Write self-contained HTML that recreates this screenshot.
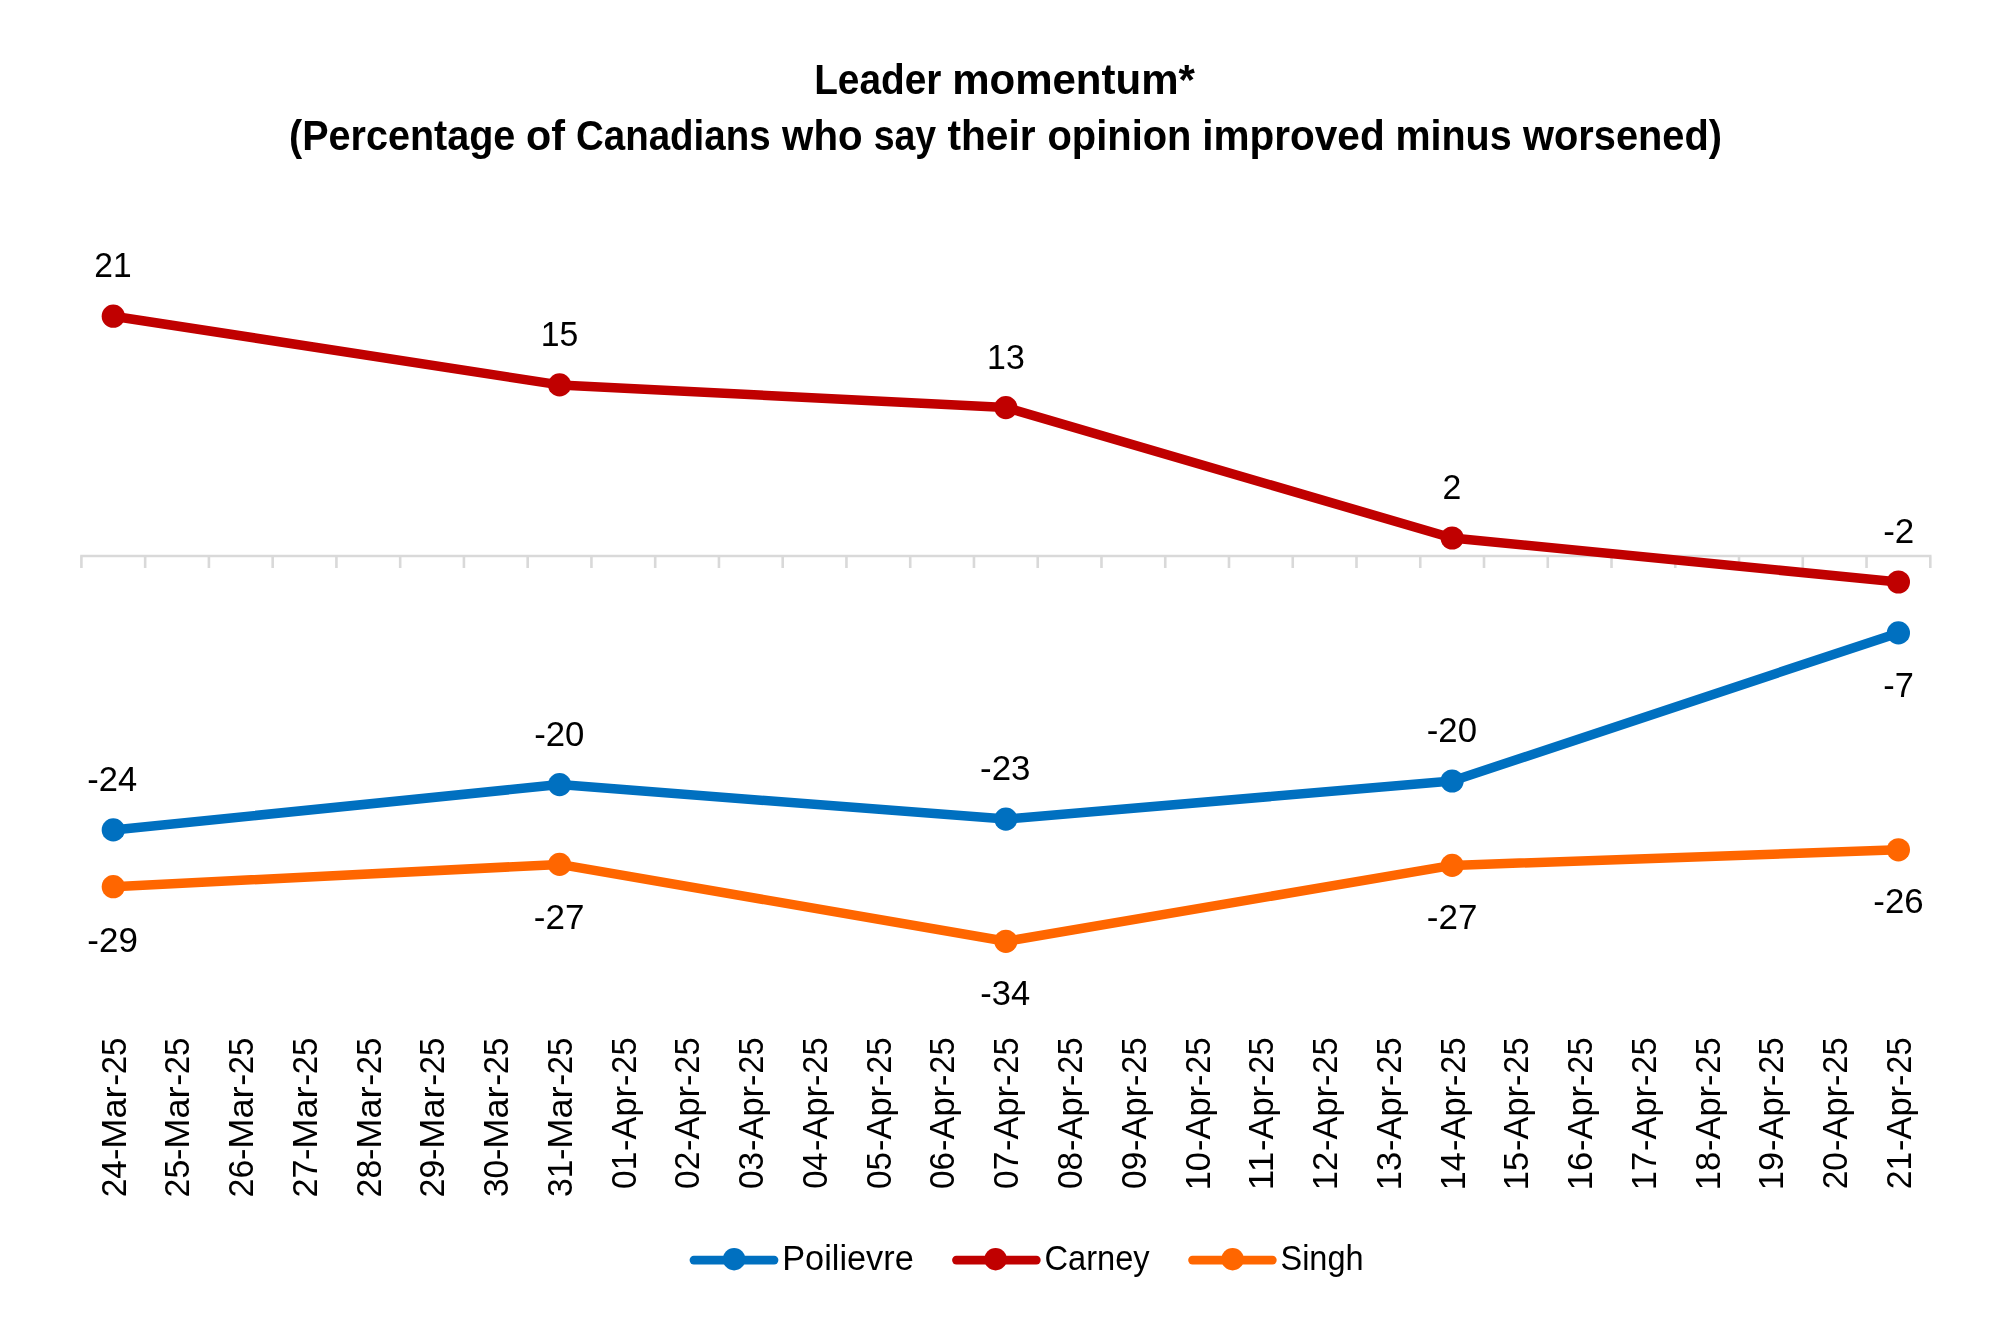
<!DOCTYPE html>
<html><head><meta charset="utf-8"><style>
html,body{margin:0;padding:0;background:#fff;}
svg{display:block;will-change:transform;}
text{font-family:"Liberation Sans",sans-serif;}
</style></head><body>
<svg width="2000" height="1328" viewBox="0 0 2000 1328">
<rect width="2000" height="1328" fill="#fff"/>
<text x="814.21" y="94.00" font-size="42.5" font-weight="bold" textLength="127.08" lengthAdjust="spacingAndGlyphs" fill="#000">Leader</text>
<text x="952.23" y="94.00" font-size="42.5" font-weight="bold" textLength="242.61" lengthAdjust="spacingAndGlyphs" fill="#000">momentum*</text>
<text x="289.03" y="150.00" font-size="42.5" font-weight="bold" textLength="226.32" lengthAdjust="spacingAndGlyphs" fill="#000">(Percentage</text>
<text x="525.99" y="150.00" font-size="42.5" font-weight="bold" textLength="38.93" lengthAdjust="spacingAndGlyphs" fill="#000">of</text>
<text x="576.02" y="150.00" font-size="42.5" font-weight="bold" textLength="194.56" lengthAdjust="spacingAndGlyphs" fill="#000">Canadians</text>
<text x="782.12" y="150.00" font-size="42.5" font-weight="bold" textLength="80.45" lengthAdjust="spacingAndGlyphs" fill="#000">who</text>
<text x="873.68" y="150.00" font-size="42.5" font-weight="bold" textLength="62.52" lengthAdjust="spacingAndGlyphs" fill="#000">say</text>
<text x="947.50" y="150.00" font-size="42.5" font-weight="bold" textLength="88.11" lengthAdjust="spacingAndGlyphs" fill="#000">their</text>
<text x="1047.44" y="150.00" font-size="42.5" font-weight="bold" textLength="144.03" lengthAdjust="spacingAndGlyphs" fill="#000">opinion</text>
<text x="1202.17" y="150.00" font-size="42.5" font-weight="bold" textLength="182.50" lengthAdjust="spacingAndGlyphs" fill="#000">improved</text>
<text x="1395.40" y="150.00" font-size="42.5" font-weight="bold" textLength="116.22" lengthAdjust="spacingAndGlyphs" fill="#000">minus</text>
<text x="1523.12" y="150.00" font-size="42.5" font-weight="bold" textLength="198.86" lengthAdjust="spacingAndGlyphs" fill="#000">worsened)</text>
<path d="M80.20 556.0H1931.50 M81.40 556.00V568 M145.16 556.00V568 M208.91 556.00V568 M272.67 556.00V568 M336.42 556.00V568 M400.18 556.00V568 M463.93 556.00V568 M527.69 556.00V568 M591.44 556.00V568 M655.20 556.00V568 M718.95 556.00V568 M782.71 556.00V568 M846.46 556.00V568 M910.22 556.00V568 M973.97 556.00V568 M1037.73 556.00V568 M1101.48 556.00V568 M1165.24 556.00V568 M1228.99 556.00V568 M1292.75 556.00V568 M1356.50 556.00V568 M1420.26 556.00V568 M1484.01 556.00V568 M1547.77 556.00V568 M1611.52 556.00V568 M1675.28 556.00V568 M1739.03 556.00V568 M1802.79 556.00V568 M1866.54 556.00V568 M1930.30 556.00V568 " stroke="#D9D9D9" stroke-width="2.6" fill="none"/>
<polyline points="113.28,829.90 559.56,784.60 1005.85,819.10 1452.14,781.00 1898.42,632.90" stroke="#0070C0" stroke-width="9.5" fill="none" stroke-linejoin="round" stroke-linecap="round"/>
<circle cx="113.28" cy="829.90" r="11.6" fill="#0070C0"/>
<circle cx="559.56" cy="784.60" r="11.6" fill="#0070C0"/>
<circle cx="1005.85" cy="819.10" r="11.6" fill="#0070C0"/>
<circle cx="1452.14" cy="781.00" r="11.6" fill="#0070C0"/>
<circle cx="1898.42" cy="632.90" r="11.6" fill="#0070C0"/>
<polyline points="113.28,316.20 559.56,384.90 1005.85,407.60 1452.14,538.00 1898.42,582.00" stroke="#C00000" stroke-width="9.5" fill="none" stroke-linejoin="round" stroke-linecap="round"/>
<circle cx="113.28" cy="316.20" r="11.6" fill="#C00000"/>
<circle cx="559.56" cy="384.90" r="11.6" fill="#C00000"/>
<circle cx="1005.85" cy="407.60" r="11.6" fill="#C00000"/>
<circle cx="1452.14" cy="538.00" r="11.6" fill="#C00000"/>
<circle cx="1898.42" cy="582.00" r="11.6" fill="#C00000"/>
<polyline points="113.28,886.70 559.56,864.40 1005.85,941.30 1452.14,865.40 1898.42,849.80" stroke="#FF6600" stroke-width="9.5" fill="none" stroke-linejoin="round" stroke-linecap="round"/>
<circle cx="113.28" cy="886.70" r="11.6" fill="#FF6600"/>
<circle cx="559.56" cy="864.40" r="11.6" fill="#FF6600"/>
<circle cx="1005.85" cy="941.30" r="11.6" fill="#FF6600"/>
<circle cx="1452.14" cy="865.40" r="11.6" fill="#FF6600"/>
<circle cx="1898.42" cy="849.80" r="11.6" fill="#FF6600"/>
<text x="94.31" y="276.60" font-size="34.5" font-weight="normal" textLength="37.33" lengthAdjust="spacingAndGlyphs" fill="#000">21</text>
<text x="540.73" y="345.70" font-size="34.5" font-weight="normal" textLength="37.59" lengthAdjust="spacingAndGlyphs" fill="#000">15</text>
<text x="987.12" y="368.80" font-size="34.5" font-weight="normal" textLength="37.67" lengthAdjust="spacingAndGlyphs" fill="#000">13</text>
<text x="1442.60" y="498.80" font-size="34.5" font-weight="normal" textLength="18.80" lengthAdjust="spacingAndGlyphs" fill="#000">2</text>
<text x="1883.15" y="542.50" font-size="34.5" font-weight="normal" textLength="31.11" lengthAdjust="spacingAndGlyphs" fill="#000">-2</text>
<text x="87.37" y="791.20" font-size="34.5" font-weight="normal" textLength="49.84" lengthAdjust="spacingAndGlyphs" fill="#000">-24</text>
<text x="87.35" y="951.60" font-size="34.5" font-weight="normal" textLength="50.51" lengthAdjust="spacingAndGlyphs" fill="#000">-29</text>
<text x="534.21" y="745.50" font-size="34.5" font-weight="normal" textLength="50.20" lengthAdjust="spacingAndGlyphs" fill="#000">-20</text>
<text x="533.79" y="928.70" font-size="34.5" font-weight="normal" textLength="50.62" lengthAdjust="spacingAndGlyphs" fill="#000">-27</text>
<text x="980.10" y="780.10" font-size="34.5" font-weight="normal" textLength="50.38" lengthAdjust="spacingAndGlyphs" fill="#000">-23</text>
<text x="980.32" y="1005.20" font-size="34.5" font-weight="normal" textLength="49.84" lengthAdjust="spacingAndGlyphs" fill="#000">-34</text>
<text x="1426.81" y="741.50" font-size="34.5" font-weight="normal" textLength="50.20" lengthAdjust="spacingAndGlyphs" fill="#000">-20</text>
<text x="1426.79" y="928.80" font-size="34.5" font-weight="normal" textLength="50.62" lengthAdjust="spacingAndGlyphs" fill="#000">-27</text>
<text x="1883.27" y="697.00" font-size="34.5" font-weight="normal" textLength="30.56" lengthAdjust="spacingAndGlyphs" fill="#000">-7</text>
<text x="1873.30" y="912.70" font-size="34.5" font-weight="normal" textLength="50.38" lengthAdjust="spacingAndGlyphs" fill="#000">-26</text>
<text transform="translate(125.68,1195.70) rotate(-90)" x="-1.68" y="0" font-size="34.5" textLength="37.16" lengthAdjust="spacingAndGlyphs">24</text>
<text transform="translate(125.68,1158.40) rotate(-90)" x="-1.53" y="0" font-size="34.5" textLength="11.46" lengthAdjust="spacingAndGlyphs">-</text>
<text transform="translate(125.68,1145.90) rotate(-90)" x="-2.98" y="0" font-size="34.5" textLength="62.58" lengthAdjust="spacingAndGlyphs">Mar</text>
<text transform="translate(125.68,1084.20) rotate(-90)" x="-1.60" y="0" font-size="34.5" textLength="12.00" lengthAdjust="spacingAndGlyphs">-</text>
<text transform="translate(125.68,1072.70) rotate(-90)" x="-1.66" y="0" font-size="34.5" textLength="36.64" lengthAdjust="spacingAndGlyphs">25</text>
<text transform="translate(189.43,1195.70) rotate(-90)" x="-1.70" y="0" font-size="34.5" textLength="37.62" lengthAdjust="spacingAndGlyphs">25</text>
<text transform="translate(189.43,1158.40) rotate(-90)" x="-1.53" y="0" font-size="34.5" textLength="11.46" lengthAdjust="spacingAndGlyphs">-</text>
<text transform="translate(189.43,1145.90) rotate(-90)" x="-2.98" y="0" font-size="34.5" textLength="62.58" lengthAdjust="spacingAndGlyphs">Mar</text>
<text transform="translate(189.43,1084.20) rotate(-90)" x="-1.60" y="0" font-size="34.5" textLength="12.00" lengthAdjust="spacingAndGlyphs">-</text>
<text transform="translate(189.43,1072.70) rotate(-90)" x="-1.66" y="0" font-size="34.5" textLength="36.64" lengthAdjust="spacingAndGlyphs">25</text>
<text transform="translate(253.19,1195.70) rotate(-90)" x="-1.70" y="0" font-size="34.5" textLength="37.69" lengthAdjust="spacingAndGlyphs">26</text>
<text transform="translate(253.19,1158.40) rotate(-90)" x="-1.53" y="0" font-size="34.5" textLength="11.46" lengthAdjust="spacingAndGlyphs">-</text>
<text transform="translate(253.19,1145.90) rotate(-90)" x="-2.98" y="0" font-size="34.5" textLength="62.58" lengthAdjust="spacingAndGlyphs">Mar</text>
<text transform="translate(253.19,1084.20) rotate(-90)" x="-1.60" y="0" font-size="34.5" textLength="12.00" lengthAdjust="spacingAndGlyphs">-</text>
<text transform="translate(253.19,1072.70) rotate(-90)" x="-1.66" y="0" font-size="34.5" textLength="36.64" lengthAdjust="spacingAndGlyphs">25</text>
<text transform="translate(316.94,1195.70) rotate(-90)" x="-1.72" y="0" font-size="34.5" textLength="37.93" lengthAdjust="spacingAndGlyphs">27</text>
<text transform="translate(316.94,1158.40) rotate(-90)" x="-1.53" y="0" font-size="34.5" textLength="11.46" lengthAdjust="spacingAndGlyphs">-</text>
<text transform="translate(316.94,1145.90) rotate(-90)" x="-2.98" y="0" font-size="34.5" textLength="62.58" lengthAdjust="spacingAndGlyphs">Mar</text>
<text transform="translate(316.94,1084.20) rotate(-90)" x="-1.60" y="0" font-size="34.5" textLength="12.00" lengthAdjust="spacingAndGlyphs">-</text>
<text transform="translate(316.94,1072.70) rotate(-90)" x="-1.66" y="0" font-size="34.5" textLength="36.64" lengthAdjust="spacingAndGlyphs">25</text>
<text transform="translate(380.70,1195.70) rotate(-90)" x="-1.70" y="0" font-size="34.5" textLength="37.68" lengthAdjust="spacingAndGlyphs">28</text>
<text transform="translate(380.70,1158.40) rotate(-90)" x="-1.53" y="0" font-size="34.5" textLength="11.46" lengthAdjust="spacingAndGlyphs">-</text>
<text transform="translate(380.70,1145.90) rotate(-90)" x="-2.98" y="0" font-size="34.5" textLength="62.58" lengthAdjust="spacingAndGlyphs">Mar</text>
<text transform="translate(380.70,1084.20) rotate(-90)" x="-1.60" y="0" font-size="34.5" textLength="12.00" lengthAdjust="spacingAndGlyphs">-</text>
<text transform="translate(380.70,1072.70) rotate(-90)" x="-1.66" y="0" font-size="34.5" textLength="36.64" lengthAdjust="spacingAndGlyphs">25</text>
<text transform="translate(444.45,1195.70) rotate(-90)" x="-1.71" y="0" font-size="34.5" textLength="37.82" lengthAdjust="spacingAndGlyphs">29</text>
<text transform="translate(444.45,1158.40) rotate(-90)" x="-1.53" y="0" font-size="34.5" textLength="11.46" lengthAdjust="spacingAndGlyphs">-</text>
<text transform="translate(444.45,1145.90) rotate(-90)" x="-2.98" y="0" font-size="34.5" textLength="62.58" lengthAdjust="spacingAndGlyphs">Mar</text>
<text transform="translate(444.45,1084.20) rotate(-90)" x="-1.60" y="0" font-size="34.5" textLength="12.00" lengthAdjust="spacingAndGlyphs">-</text>
<text transform="translate(444.45,1072.70) rotate(-90)" x="-1.66" y="0" font-size="34.5" textLength="36.64" lengthAdjust="spacingAndGlyphs">25</text>
<text transform="translate(508.21,1195.70) rotate(-90)" x="-1.27" y="0" font-size="34.5" textLength="37.07" lengthAdjust="spacingAndGlyphs">30</text>
<text transform="translate(508.21,1158.40) rotate(-90)" x="-1.53" y="0" font-size="34.5" textLength="11.46" lengthAdjust="spacingAndGlyphs">-</text>
<text transform="translate(508.21,1145.90) rotate(-90)" x="-2.98" y="0" font-size="34.5" textLength="62.58" lengthAdjust="spacingAndGlyphs">Mar</text>
<text transform="translate(508.21,1084.20) rotate(-90)" x="-1.60" y="0" font-size="34.5" textLength="12.00" lengthAdjust="spacingAndGlyphs">-</text>
<text transform="translate(508.21,1072.70) rotate(-90)" x="-1.66" y="0" font-size="34.5" textLength="36.64" lengthAdjust="spacingAndGlyphs">25</text>
<text transform="translate(571.96,1195.70) rotate(-90)" x="-1.28" y="0" font-size="34.5" textLength="37.42" lengthAdjust="spacingAndGlyphs">31</text>
<text transform="translate(571.96,1158.40) rotate(-90)" x="-1.53" y="0" font-size="34.5" textLength="11.46" lengthAdjust="spacingAndGlyphs">-</text>
<text transform="translate(571.96,1145.90) rotate(-90)" x="-2.98" y="0" font-size="34.5" textLength="62.58" lengthAdjust="spacingAndGlyphs">Mar</text>
<text transform="translate(571.96,1084.20) rotate(-90)" x="-1.60" y="0" font-size="34.5" textLength="12.00" lengthAdjust="spacingAndGlyphs">-</text>
<text transform="translate(571.96,1072.70) rotate(-90)" x="-1.66" y="0" font-size="34.5" textLength="36.64" lengthAdjust="spacingAndGlyphs">25</text>
<text transform="translate(635.72,1187.60) rotate(-90)" x="-1.30" y="0" font-size="34.5" textLength="37.13" lengthAdjust="spacingAndGlyphs">01</text>
<text transform="translate(635.72,1149.60) rotate(-90)" x="-1.53" y="0" font-size="34.5" textLength="11.46" lengthAdjust="spacingAndGlyphs">-</text>
<text transform="translate(635.72,1139.50) rotate(-90)" x="-0.07" y="0" font-size="34.5" textLength="53.54" lengthAdjust="spacingAndGlyphs">Apr</text>
<text transform="translate(635.72,1084.50) rotate(-90)" x="-1.53" y="0" font-size="34.5" textLength="11.46" lengthAdjust="spacingAndGlyphs">-</text>
<text transform="translate(635.72,1072.00) rotate(-90)" x="-1.64" y="0" font-size="34.5" textLength="36.20" lengthAdjust="spacingAndGlyphs">25</text>
<text transform="translate(699.47,1187.60) rotate(-90)" x="-1.31" y="0" font-size="34.5" textLength="37.19" lengthAdjust="spacingAndGlyphs">02</text>
<text transform="translate(699.47,1149.60) rotate(-90)" x="-1.53" y="0" font-size="34.5" textLength="11.46" lengthAdjust="spacingAndGlyphs">-</text>
<text transform="translate(699.47,1139.50) rotate(-90)" x="-0.07" y="0" font-size="34.5" textLength="53.54" lengthAdjust="spacingAndGlyphs">Apr</text>
<text transform="translate(699.47,1084.50) rotate(-90)" x="-1.53" y="0" font-size="34.5" textLength="11.46" lengthAdjust="spacingAndGlyphs">-</text>
<text transform="translate(699.47,1072.00) rotate(-90)" x="-1.64" y="0" font-size="34.5" textLength="36.20" lengthAdjust="spacingAndGlyphs">25</text>
<text transform="translate(763.23,1187.60) rotate(-90)" x="-1.30" y="0" font-size="34.5" textLength="36.96" lengthAdjust="spacingAndGlyphs">03</text>
<text transform="translate(763.23,1149.60) rotate(-90)" x="-1.53" y="0" font-size="34.5" textLength="11.46" lengthAdjust="spacingAndGlyphs">-</text>
<text transform="translate(763.23,1139.50) rotate(-90)" x="-0.07" y="0" font-size="34.5" textLength="53.54" lengthAdjust="spacingAndGlyphs">Apr</text>
<text transform="translate(763.23,1084.50) rotate(-90)" x="-1.53" y="0" font-size="34.5" textLength="11.46" lengthAdjust="spacingAndGlyphs">-</text>
<text transform="translate(763.23,1072.00) rotate(-90)" x="-1.64" y="0" font-size="34.5" textLength="36.20" lengthAdjust="spacingAndGlyphs">25</text>
<text transform="translate(826.98,1187.60) rotate(-90)" x="-1.28" y="0" font-size="34.5" textLength="36.44" lengthAdjust="spacingAndGlyphs">04</text>
<text transform="translate(826.98,1149.60) rotate(-90)" x="-1.53" y="0" font-size="34.5" textLength="11.46" lengthAdjust="spacingAndGlyphs">-</text>
<text transform="translate(826.98,1139.50) rotate(-90)" x="-0.07" y="0" font-size="34.5" textLength="53.54" lengthAdjust="spacingAndGlyphs">Apr</text>
<text transform="translate(826.98,1084.50) rotate(-90)" x="-1.53" y="0" font-size="34.5" textLength="11.46" lengthAdjust="spacingAndGlyphs">-</text>
<text transform="translate(826.98,1072.00) rotate(-90)" x="-1.64" y="0" font-size="34.5" textLength="36.20" lengthAdjust="spacingAndGlyphs">25</text>
<text transform="translate(890.74,1187.60) rotate(-90)" x="-1.30" y="0" font-size="34.5" textLength="36.89" lengthAdjust="spacingAndGlyphs">05</text>
<text transform="translate(890.74,1149.60) rotate(-90)" x="-1.53" y="0" font-size="34.5" textLength="11.46" lengthAdjust="spacingAndGlyphs">-</text>
<text transform="translate(890.74,1139.50) rotate(-90)" x="-0.07" y="0" font-size="34.5" textLength="53.54" lengthAdjust="spacingAndGlyphs">Apr</text>
<text transform="translate(890.74,1084.50) rotate(-90)" x="-1.53" y="0" font-size="34.5" textLength="11.46" lengthAdjust="spacingAndGlyphs">-</text>
<text transform="translate(890.74,1072.00) rotate(-90)" x="-1.64" y="0" font-size="34.5" textLength="36.20" lengthAdjust="spacingAndGlyphs">25</text>
<text transform="translate(954.49,1187.60) rotate(-90)" x="-1.30" y="0" font-size="34.5" textLength="36.96" lengthAdjust="spacingAndGlyphs">06</text>
<text transform="translate(954.49,1149.60) rotate(-90)" x="-1.53" y="0" font-size="34.5" textLength="11.46" lengthAdjust="spacingAndGlyphs">-</text>
<text transform="translate(954.49,1139.50) rotate(-90)" x="-0.07" y="0" font-size="34.5" textLength="53.54" lengthAdjust="spacingAndGlyphs">Apr</text>
<text transform="translate(954.49,1084.50) rotate(-90)" x="-1.53" y="0" font-size="34.5" textLength="11.46" lengthAdjust="spacingAndGlyphs">-</text>
<text transform="translate(954.49,1072.00) rotate(-90)" x="-1.64" y="0" font-size="34.5" textLength="36.20" lengthAdjust="spacingAndGlyphs">25</text>
<text transform="translate(1018.25,1187.60) rotate(-90)" x="-1.31" y="0" font-size="34.5" textLength="37.19" lengthAdjust="spacingAndGlyphs">07</text>
<text transform="translate(1018.25,1149.60) rotate(-90)" x="-1.53" y="0" font-size="34.5" textLength="11.46" lengthAdjust="spacingAndGlyphs">-</text>
<text transform="translate(1018.25,1139.50) rotate(-90)" x="-0.07" y="0" font-size="34.5" textLength="53.54" lengthAdjust="spacingAndGlyphs">Apr</text>
<text transform="translate(1018.25,1084.50) rotate(-90)" x="-1.53" y="0" font-size="34.5" textLength="11.46" lengthAdjust="spacingAndGlyphs">-</text>
<text transform="translate(1018.25,1072.00) rotate(-90)" x="-1.64" y="0" font-size="34.5" textLength="36.20" lengthAdjust="spacingAndGlyphs">25</text>
<text transform="translate(1082.01,1187.60) rotate(-90)" x="-1.30" y="0" font-size="34.5" textLength="36.94" lengthAdjust="spacingAndGlyphs">08</text>
<text transform="translate(1082.01,1149.60) rotate(-90)" x="-1.53" y="0" font-size="34.5" textLength="11.46" lengthAdjust="spacingAndGlyphs">-</text>
<text transform="translate(1082.01,1139.50) rotate(-90)" x="-0.07" y="0" font-size="34.5" textLength="53.54" lengthAdjust="spacingAndGlyphs">Apr</text>
<text transform="translate(1082.01,1084.50) rotate(-90)" x="-1.53" y="0" font-size="34.5" textLength="11.46" lengthAdjust="spacingAndGlyphs">-</text>
<text transform="translate(1082.01,1072.00) rotate(-90)" x="-1.64" y="0" font-size="34.5" textLength="36.20" lengthAdjust="spacingAndGlyphs">25</text>
<text transform="translate(1145.76,1187.60) rotate(-90)" x="-1.30" y="0" font-size="34.5" textLength="37.08" lengthAdjust="spacingAndGlyphs">09</text>
<text transform="translate(1145.76,1149.60) rotate(-90)" x="-1.53" y="0" font-size="34.5" textLength="11.46" lengthAdjust="spacingAndGlyphs">-</text>
<text transform="translate(1145.76,1139.50) rotate(-90)" x="-0.07" y="0" font-size="34.5" textLength="53.54" lengthAdjust="spacingAndGlyphs">Apr</text>
<text transform="translate(1145.76,1084.50) rotate(-90)" x="-1.53" y="0" font-size="34.5" textLength="11.46" lengthAdjust="spacingAndGlyphs">-</text>
<text transform="translate(1145.76,1072.00) rotate(-90)" x="-1.64" y="0" font-size="34.5" textLength="36.20" lengthAdjust="spacingAndGlyphs">25</text>
<text transform="translate(1209.52,1187.60) rotate(-90)" x="-2.61" y="0" font-size="34.5" textLength="38.15" lengthAdjust="spacingAndGlyphs">10</text>
<text transform="translate(1209.52,1149.60) rotate(-90)" x="-1.53" y="0" font-size="34.5" textLength="11.46" lengthAdjust="spacingAndGlyphs">-</text>
<text transform="translate(1209.52,1139.50) rotate(-90)" x="-0.07" y="0" font-size="34.5" textLength="53.54" lengthAdjust="spacingAndGlyphs">Apr</text>
<text transform="translate(1209.52,1084.50) rotate(-90)" x="-1.53" y="0" font-size="34.5" textLength="11.46" lengthAdjust="spacingAndGlyphs">-</text>
<text transform="translate(1209.52,1072.00) rotate(-90)" x="-1.64" y="0" font-size="34.5" textLength="36.20" lengthAdjust="spacingAndGlyphs">25</text>
<text transform="translate(1273.27,1187.60) rotate(-90)" x="-2.64" y="0" font-size="34.5" textLength="38.53" lengthAdjust="spacingAndGlyphs">11</text>
<text transform="translate(1273.27,1149.60) rotate(-90)" x="-1.53" y="0" font-size="34.5" textLength="11.46" lengthAdjust="spacingAndGlyphs">-</text>
<text transform="translate(1273.27,1139.50) rotate(-90)" x="-0.07" y="0" font-size="34.5" textLength="53.54" lengthAdjust="spacingAndGlyphs">Apr</text>
<text transform="translate(1273.27,1084.50) rotate(-90)" x="-1.53" y="0" font-size="34.5" textLength="11.46" lengthAdjust="spacingAndGlyphs">-</text>
<text transform="translate(1273.27,1072.00) rotate(-90)" x="-1.64" y="0" font-size="34.5" textLength="36.20" lengthAdjust="spacingAndGlyphs">25</text>
<text transform="translate(1337.03,1187.60) rotate(-90)" x="-2.64" y="0" font-size="34.5" textLength="38.59" lengthAdjust="spacingAndGlyphs">12</text>
<text transform="translate(1337.03,1149.60) rotate(-90)" x="-1.53" y="0" font-size="34.5" textLength="11.46" lengthAdjust="spacingAndGlyphs">-</text>
<text transform="translate(1337.03,1139.50) rotate(-90)" x="-0.07" y="0" font-size="34.5" textLength="53.54" lengthAdjust="spacingAndGlyphs">Apr</text>
<text transform="translate(1337.03,1084.50) rotate(-90)" x="-1.53" y="0" font-size="34.5" textLength="11.46" lengthAdjust="spacingAndGlyphs">-</text>
<text transform="translate(1337.03,1072.00) rotate(-90)" x="-1.64" y="0" font-size="34.5" textLength="36.20" lengthAdjust="spacingAndGlyphs">25</text>
<text transform="translate(1400.78,1187.60) rotate(-90)" x="-2.63" y="0" font-size="34.5" textLength="38.34" lengthAdjust="spacingAndGlyphs">13</text>
<text transform="translate(1400.78,1149.60) rotate(-90)" x="-1.53" y="0" font-size="34.5" textLength="11.46" lengthAdjust="spacingAndGlyphs">-</text>
<text transform="translate(1400.78,1139.50) rotate(-90)" x="-0.07" y="0" font-size="34.5" textLength="53.54" lengthAdjust="spacingAndGlyphs">Apr</text>
<text transform="translate(1400.78,1084.50) rotate(-90)" x="-1.53" y="0" font-size="34.5" textLength="11.46" lengthAdjust="spacingAndGlyphs">-</text>
<text transform="translate(1400.78,1072.00) rotate(-90)" x="-1.64" y="0" font-size="34.5" textLength="36.20" lengthAdjust="spacingAndGlyphs">25</text>
<text transform="translate(1464.54,1187.60) rotate(-90)" x="-2.59" y="0" font-size="34.5" textLength="37.78" lengthAdjust="spacingAndGlyphs">14</text>
<text transform="translate(1464.54,1149.60) rotate(-90)" x="-1.53" y="0" font-size="34.5" textLength="11.46" lengthAdjust="spacingAndGlyphs">-</text>
<text transform="translate(1464.54,1139.50) rotate(-90)" x="-0.07" y="0" font-size="34.5" textLength="53.54" lengthAdjust="spacingAndGlyphs">Apr</text>
<text transform="translate(1464.54,1084.50) rotate(-90)" x="-1.53" y="0" font-size="34.5" textLength="11.46" lengthAdjust="spacingAndGlyphs">-</text>
<text transform="translate(1464.54,1072.00) rotate(-90)" x="-1.64" y="0" font-size="34.5" textLength="36.20" lengthAdjust="spacingAndGlyphs">25</text>
<text transform="translate(1528.29,1187.60) rotate(-90)" x="-2.62" y="0" font-size="34.5" textLength="38.27" lengthAdjust="spacingAndGlyphs">15</text>
<text transform="translate(1528.29,1149.60) rotate(-90)" x="-1.53" y="0" font-size="34.5" textLength="11.46" lengthAdjust="spacingAndGlyphs">-</text>
<text transform="translate(1528.29,1139.50) rotate(-90)" x="-0.07" y="0" font-size="34.5" textLength="53.54" lengthAdjust="spacingAndGlyphs">Apr</text>
<text transform="translate(1528.29,1084.50) rotate(-90)" x="-1.53" y="0" font-size="34.5" textLength="11.46" lengthAdjust="spacingAndGlyphs">-</text>
<text transform="translate(1528.29,1072.00) rotate(-90)" x="-1.64" y="0" font-size="34.5" textLength="36.20" lengthAdjust="spacingAndGlyphs">25</text>
<text transform="translate(1592.05,1187.60) rotate(-90)" x="-2.63" y="0" font-size="34.5" textLength="38.34" lengthAdjust="spacingAndGlyphs">16</text>
<text transform="translate(1592.05,1149.60) rotate(-90)" x="-1.53" y="0" font-size="34.5" textLength="11.46" lengthAdjust="spacingAndGlyphs">-</text>
<text transform="translate(1592.05,1139.50) rotate(-90)" x="-0.07" y="0" font-size="34.5" textLength="53.54" lengthAdjust="spacingAndGlyphs">Apr</text>
<text transform="translate(1592.05,1084.50) rotate(-90)" x="-1.53" y="0" font-size="34.5" textLength="11.46" lengthAdjust="spacingAndGlyphs">-</text>
<text transform="translate(1592.05,1072.00) rotate(-90)" x="-1.64" y="0" font-size="34.5" textLength="36.20" lengthAdjust="spacingAndGlyphs">25</text>
<text transform="translate(1655.80,1187.60) rotate(-90)" x="-2.64" y="0" font-size="34.5" textLength="38.59" lengthAdjust="spacingAndGlyphs">17</text>
<text transform="translate(1655.80,1149.60) rotate(-90)" x="-1.53" y="0" font-size="34.5" textLength="11.46" lengthAdjust="spacingAndGlyphs">-</text>
<text transform="translate(1655.80,1139.50) rotate(-90)" x="-0.07" y="0" font-size="34.5" textLength="53.54" lengthAdjust="spacingAndGlyphs">Apr</text>
<text transform="translate(1655.80,1084.50) rotate(-90)" x="-1.53" y="0" font-size="34.5" textLength="11.46" lengthAdjust="spacingAndGlyphs">-</text>
<text transform="translate(1655.80,1072.00) rotate(-90)" x="-1.64" y="0" font-size="34.5" textLength="36.20" lengthAdjust="spacingAndGlyphs">25</text>
<text transform="translate(1719.56,1187.60) rotate(-90)" x="-2.62" y="0" font-size="34.5" textLength="38.32" lengthAdjust="spacingAndGlyphs">18</text>
<text transform="translate(1719.56,1149.60) rotate(-90)" x="-1.53" y="0" font-size="34.5" textLength="11.46" lengthAdjust="spacingAndGlyphs">-</text>
<text transform="translate(1719.56,1139.50) rotate(-90)" x="-0.07" y="0" font-size="34.5" textLength="53.54" lengthAdjust="spacingAndGlyphs">Apr</text>
<text transform="translate(1719.56,1084.50) rotate(-90)" x="-1.53" y="0" font-size="34.5" textLength="11.46" lengthAdjust="spacingAndGlyphs">-</text>
<text transform="translate(1719.56,1072.00) rotate(-90)" x="-1.64" y="0" font-size="34.5" textLength="36.20" lengthAdjust="spacingAndGlyphs">25</text>
<text transform="translate(1783.31,1187.60) rotate(-90)" x="-2.63" y="0" font-size="34.5" textLength="38.47" lengthAdjust="spacingAndGlyphs">19</text>
<text transform="translate(1783.31,1149.60) rotate(-90)" x="-1.53" y="0" font-size="34.5" textLength="11.46" lengthAdjust="spacingAndGlyphs">-</text>
<text transform="translate(1783.31,1139.50) rotate(-90)" x="-0.07" y="0" font-size="34.5" textLength="53.54" lengthAdjust="spacingAndGlyphs">Apr</text>
<text transform="translate(1783.31,1084.50) rotate(-90)" x="-1.53" y="0" font-size="34.5" textLength="11.46" lengthAdjust="spacingAndGlyphs">-</text>
<text transform="translate(1783.31,1072.00) rotate(-90)" x="-1.64" y="0" font-size="34.5" textLength="36.20" lengthAdjust="spacingAndGlyphs">25</text>
<text transform="translate(1847.07,1187.60) rotate(-90)" x="-1.68" y="0" font-size="34.5" textLength="37.19" lengthAdjust="spacingAndGlyphs">20</text>
<text transform="translate(1847.07,1149.60) rotate(-90)" x="-1.53" y="0" font-size="34.5" textLength="11.46" lengthAdjust="spacingAndGlyphs">-</text>
<text transform="translate(1847.07,1139.50) rotate(-90)" x="-0.07" y="0" font-size="34.5" textLength="53.54" lengthAdjust="spacingAndGlyphs">Apr</text>
<text transform="translate(1847.07,1084.50) rotate(-90)" x="-1.53" y="0" font-size="34.5" textLength="11.46" lengthAdjust="spacingAndGlyphs">-</text>
<text transform="translate(1847.07,1072.00) rotate(-90)" x="-1.64" y="0" font-size="34.5" textLength="36.20" lengthAdjust="spacingAndGlyphs">25</text>
<text transform="translate(1910.82,1187.60) rotate(-90)" x="-1.70" y="0" font-size="34.5" textLength="37.55" lengthAdjust="spacingAndGlyphs">21</text>
<text transform="translate(1910.82,1149.60) rotate(-90)" x="-1.53" y="0" font-size="34.5" textLength="11.46" lengthAdjust="spacingAndGlyphs">-</text>
<text transform="translate(1910.82,1139.50) rotate(-90)" x="-0.07" y="0" font-size="34.5" textLength="53.54" lengthAdjust="spacingAndGlyphs">Apr</text>
<text transform="translate(1910.82,1084.50) rotate(-90)" x="-1.53" y="0" font-size="34.5" textLength="11.46" lengthAdjust="spacingAndGlyphs">-</text>
<text transform="translate(1910.82,1072.00) rotate(-90)" x="-1.64" y="0" font-size="34.5" textLength="36.20" lengthAdjust="spacingAndGlyphs">25</text>
<line x1="693.90" y1="1260.1" x2="774.10" y2="1260.1" stroke="#0070C0" stroke-width="8.6" stroke-linecap="round"/>
<circle cx="734.10" cy="1259.2" r="11.2" fill="#0070C0"/>
<text x="782.19" y="1270.00" font-size="34.2" font-weight="normal" textLength="131.54" lengthAdjust="spacingAndGlyphs" fill="#000">Poilievre</text>
<line x1="956.40" y1="1260.1" x2="1036.40" y2="1260.1" stroke="#C00000" stroke-width="8.6" stroke-linecap="round"/>
<circle cx="995.60" cy="1259.2" r="11.2" fill="#C00000"/>
<text x="1044.54" y="1270.00" font-size="34.2" font-weight="normal" textLength="105.12" lengthAdjust="spacingAndGlyphs" fill="#000">Carney</text>
<line x1="1192.50" y1="1260.1" x2="1272.40" y2="1260.1" stroke="#FF6600" stroke-width="8.6" stroke-linecap="round"/>
<circle cx="1232.60" cy="1259.2" r="11.2" fill="#FF6600"/>
<text x="1280.53" y="1270.00" font-size="34.2" font-weight="normal" textLength="82.98" lengthAdjust="spacingAndGlyphs" fill="#000">Singh</text>
</svg>
</body></html>
